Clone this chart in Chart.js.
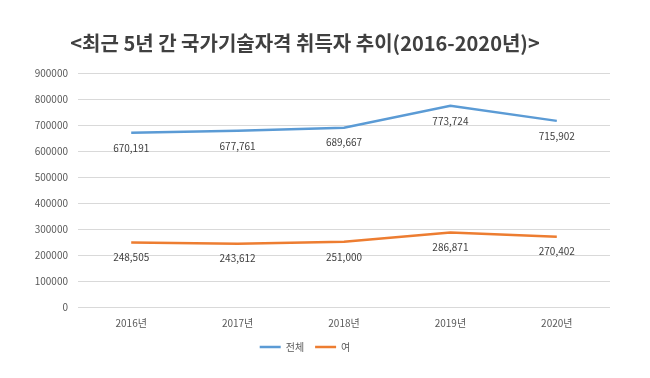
<!DOCTYPE html>
<html><head><meta charset="utf-8">
<script src="https://cdn.jsdelivr.net/npm/chart.js@4"></script>
<style>html,body{margin:0;padding:0;background:#fff}#wrap{width:650px;height:378px}</style>
</head><body><div id="wrap"><canvas id="c" width="650" height="378"></canvas></div>
<script>
const categories = ['2016년','2017년','2018년','2019년','2020년'];
const totalValues = [670191, 677761, 689667, 773724, 715902];
const femaleValues = [248505, 243612, 251000, 286871, 270402];
const seriesNames = ['전체','여'];
const titleText = '<최근 5년 간 국가기술자격 취득자 추이(2016-2020년)>';
const FONT = "'Noto Sans CJK KR', 'Noto Sans', sans-serif";

const dataLabels = {
  id: 'dataLabels',
  afterDatasetsDraw(chart) {
    const ctx = chart.ctx;
    ctx.save();
    ctx.font = '10px ' + FONT;
    ctx.fillStyle = '#404040';
    ctx.textAlign = 'center';
    ctx.textBaseline = 'middle';
    chart.data.datasets.forEach((ds, i) => {
      chart.getDatasetMeta(i).data.forEach((pt, j) => {
        ctx.fillText(ds.data[j].toLocaleString('en-US'), pt.x, pt.y + 15);
      });
    });
    ctx.restore();
  }
};

new Chart(document.getElementById('c'), {
  type: 'line',
  data: {
    labels: categories,
    datasets: [
      { label: seriesNames[0], data: totalValues, borderColor: '#5B9BD5', backgroundColor: '#5B9BD5', borderWidth: 2.5, pointRadius: 0, tension: 0 },
      { label: seriesNames[1], data: femaleValues, borderColor: '#ED7D31', backgroundColor: '#ED7D31', borderWidth: 2.5, pointRadius: 0, tension: 0 }
    ]
  },
  options: {
    responsive: false,
    animation: false,
    layout: { padding: { left: 0, right: 40, top: 0, bottom: 16 } },
    plugins: {
      title: { display: true, text: titleText, color: '#404040', font: { family: FONT, size: 20, weight: 'bold' }, padding: { top: 31, bottom: 18 } },
      legend: { position: 'bottom', labels: { color: '#595959', font: { family: FONT, size: 10 }, usePointStyle: true, pointStyle: 'line', pointStyleWidth: 21, boxHeight: 3, padding: 11 } },
      tooltip: { enabled: false }
    },
    scales: {
      x: { offset: true, grid: { display: false, offset: true }, border: { display: false }, ticks: { color: '#595959', font: { family: FONT, size: 10 }, padding: 2 } },
      y: { min: 0, max: 900000, grid: { color: '#D9D9D9', drawTicks: false }, border: { display: false },
           ticks: { stepSize: 100000, color: '#595959', font: { family: FONT, size: 10 }, padding: 10, callback: v => String(v) },
           afterFit(s) { s.width = 78; } }
    }
  },
  plugins: [dataLabels]
});
</script></body></html>
